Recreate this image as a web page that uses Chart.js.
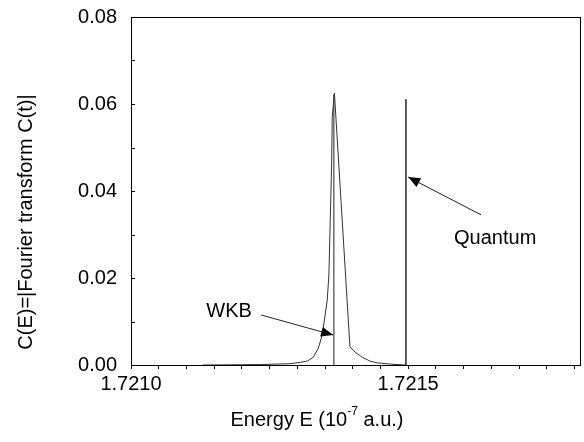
<!DOCTYPE html>
<html>
<head>
<meta charset="utf-8">
<script src="https://cdn.jsdelivr.net/npm/chart.js@4.4.1/dist/chart.umd.min.js"></script>
<style>
  body { margin: 0; background: #fff; }
  #wrap { width: 584px; height: 442px; }
</style>
</head>
<body>
<div id="wrap"><canvas id="chart" width="584" height="442"></canvas></div>
<script>
// WKB spectrum |FT C(t)|
const wkbE = [1.721130, 1.721233, 1.721287, 1.721305, 1.721318, 1.721329, 1.721338, 1.721345,
  1.721354, 1.721357, 1.721362, 1.721363, 1.721367, 1.721395, 1.721406, 1.721417,
  1.721431, 1.721444, 1.721468, 1.721495];
const wkbC = [0.0, 0.0001, 0.0003, 0.0006, 0.0009, 0.0018, 0.0039, 0.0069,
  0.0149, 0.0207, 0.0464, 0.0570, 0.0625, 0.0041, 0.0028, 0.0018,
  0.0009, 0.0005, 0.0002, 0.0];

// vertical marker lines
const wkbLineE = [1.721366, 1.721366];
const wkbLineC = [0, 0.0622];
const quantumE = [1.721496, 1.721496];
const quantumC = [0, 0.0611];

// annotation arrows (tail -> head) and labels, in data units
const wkbArrowE = [1.7212347, 1.7213646];
const wkbArrowC = [0.0115, 0.0069];
const quantumArrowE = [1.7216318, 1.7215];
const quantumArrowC = [0.0345, 0.0432];
const labelText = ['WKB', 'Quantum'];
const labelE = [1.7211769, 1.7216570];
const labelC = [0.0122, 0.0290];

// axis ticks
const xTicks = [];
for (let i = 0; i <= 16; i++) xTicks.push(+(1.7210 + i * 0.00005).toFixed(5));
const xLabels = [1.7210, 1.7215];
const yTicks = [0, 0.01, 0.02, 0.03, 0.04, 0.05, 0.06, 0.07, 0.08];

const FONT = '"Liberation Sans", Arial, sans-serif';
const pts = (xs, ys) => xs.map((x, i) => ({ x, y: ys[i] }));

const line = (data, width, color) => ({
  data, borderColor: color, borderWidth: width, pointRadius: 0, tension: 0, fill: false
});

// plain frame axes for the top and right edges of the box
const frame = (axis, position, fit) => ({
  type: 'linear', axis, position, min: 0, max: 1,
  afterFit: fit,
  grid: { drawOnChartArea: false, drawTicks: false },
  border: { display: true, color: '#000', width: 1 },
  ticks: { display: false }
});

const extras = {
  id: 'extras',
  afterDraw(chart) {
    const { ctx, chartArea: a, scales: { x, y } } = chart;
    ctx.save();
    ctx.fillStyle = '#000';
    // inward y ticks
    yTicks.forEach(v => {
      const py = Math.round(y.getPixelForValue(v));
      ctx.fillRect(Math.round(a.left), py, 4, 1);
    });
    // arrow heads
    [[wkbArrowE, wkbArrowC], [quantumArrowE, quantumArrowC]].forEach(([es, cs]) => {
      const x0 = x.getPixelForValue(es[0]), y0 = y.getPixelForValue(cs[0]);
      const x1 = x.getPixelForValue(es[1]), y1 = y.getPixelForValue(cs[1]);
      const ang = Math.atan2(y1 - y0, x1 - x0);
      const len = 12, half = 5;
      ctx.beginPath();
      ctx.moveTo(x1, y1);
      ctx.lineTo(x1 - len * Math.cos(ang) + half * Math.sin(ang), y1 - len * Math.sin(ang) - half * Math.cos(ang));
      ctx.lineTo(x1 - len * Math.cos(ang) - half * Math.sin(ang), y1 - len * Math.sin(ang) + half * Math.cos(ang));
      ctx.closePath();
      ctx.fill();
    });
    // labels
    ctx.font = '20px ' + FONT;
    ctx.textAlign = 'center';
    ctx.textBaseline = 'middle';
    labelText.forEach((t, i) => {
      ctx.fillText(t, x.getPixelForValue(labelE[i]), y.getPixelForValue(labelC[i]));
    });
    // y title
    ctx.save();
    ctx.translate(26, 222);
    ctx.rotate(-Math.PI / 2);
    ctx.fillText('C(E)=|Fourier transform C(t)|', 0, 0);
    ctx.restore();
    // x title with superscript
    const p1 = 'Energy E (10', sup = '-7', p2 = ' a.u.)';
    ctx.font = '20px ' + FONT;
    const w1 = ctx.measureText(p1).width, w3 = ctx.measureText(p2).width;
    ctx.font = '12px ' + FONT;
    const w2 = ctx.measureText(sup).width;
    let sx = 317 - (w1 + w2 + w3) / 2;
    const ty = 420;
    ctx.textAlign = 'left';
    ctx.font = '20px ' + FONT;
    ctx.fillText(p1, sx, ty);
    sx += w1;
    ctx.font = '12px ' + FONT;
    ctx.fillText(sup, sx, ty - 8);
    sx += w2;
    ctx.font = '20px ' + FONT;
    ctx.fillText(p2, sx, ty);
    ctx.restore();
  }
};

new Chart(document.getElementById('chart').getContext('2d'), {
  type: 'line',
  data: {
    datasets: [
      line(pts(wkbE, wkbC), 1, '#333'),
      line(pts(wkbLineE, wkbLineC), 1, '#222'),
      line(pts(quantumE, quantumC), 1.3, '#000'),
      line(pts(wkbArrowE, wkbArrowC), 1, '#222'),
      line(pts(quantumArrowE, quantumArrowC), 1, '#222')
    ]
  },
  options: {
    responsive: false,
    animation: false,
    devicePixelRatio: 1,
    layout: { padding: { top: 17, right: 4, left: 0, bottom: 0 } },
    plugins: { legend: { display: false }, tooltip: { enabled: false } },
    scales: {
      x: {
        type: 'linear',
        min: 1.7210,
        max: 1.72181,
        afterBuildTicks: s => { s.ticks = xTicks.map(v => ({ value: v })); },
        afterFit: s => { s.height = 77; s.paddingLeft = 0; s.paddingRight = 0; },
        grid: { drawOnChartArea: false, drawTicks: true, tickLength: 4, color: '#000' },
        border: { display: true, color: '#000', width: 1 },
        ticks: {
          autoSkip: false,
          maxRotation: 0,
          padding: 3,
          color: '#000',
          font: { family: FONT, size: 20 },
          callback: v => xLabels.some(l => Math.abs(l - v) < 1e-7) ? v.toFixed(4) : ''
        }
      },
      y: {
        min: 0,
        max: 0.08,
        afterBuildTicks: s => { s.ticks = yTicks.map(v => ({ value: v })); },
        afterFit: s => { s.width = 131; s.paddingTop = 0; s.paddingBottom = 0; },
        grid: { drawOnChartArea: false, drawTicks: false },
        border: { display: true, color: '#000', width: 1 },
        ticks: {
          padding: 14,
          color: '#000',
          font: { family: FONT, size: 20 },
          callback: v => Math.round(v * 100) % 2 === 0 ? v.toFixed(2) : ''
        }
      },
      xTop: frame('x', 'top', s => { s.height = 0; }),
      yRight: frame('y', 'right', s => { s.width = 0; })
    }
  },
  plugins: [extras]
});
</script>
</body>
</html>
